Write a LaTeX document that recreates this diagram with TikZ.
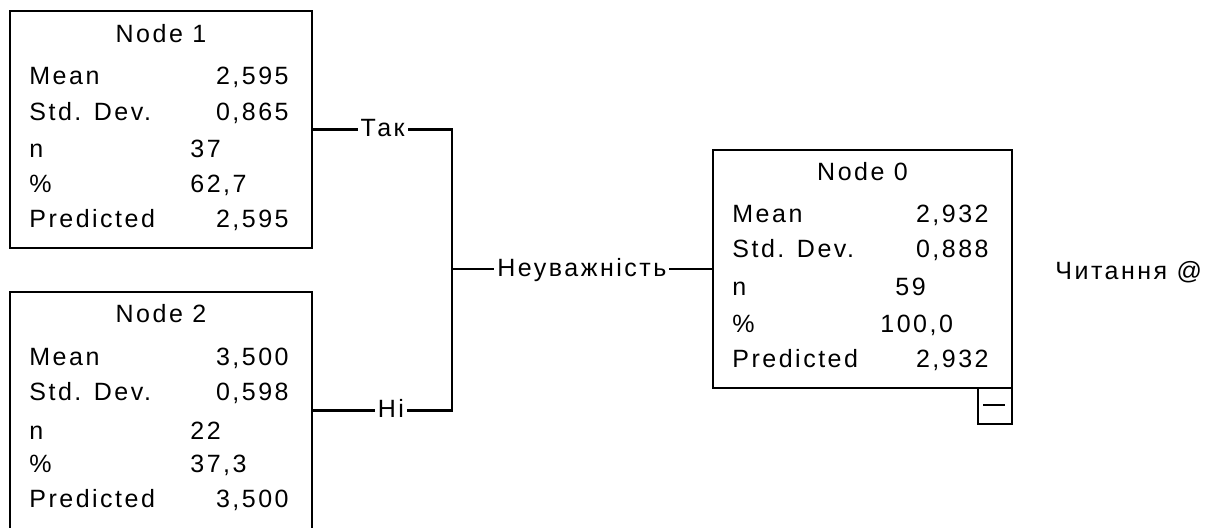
\documentclass[tikz,border=0pt]{standalone}
\usepackage{fontspec}
\setmainfont{Liberation Sans}[LetterSpace=10]

\tikzstyle{box} = [draw, line width = 1.3pt, inner sep = 0pt]
\tikzstyle{txt} = [inner sep = 0pt, text height = 0.72em, text depth = 0pt, font = \fontsize{12.5}{14}\selectfont]
\tikzstyle{lab} = [txt, fill = white, inner xsep = 1.5pt]
\tikzstyle{conn} = [line width = 1.3pt]

\begin{document}
\begin{tikzpicture}[x = 0.5pt, y = -0.5pt]
		\useasboundingbox (0, 0) rectangle (1227, 528);

		% tree nodes
		\node [box, minimum width = 151pt, minimum height = 118.5pt] at (161, 129.5) (n1) {};
		\node [box, minimum width = 151pt, minimum height = 118.5pt] at (161, 410.5) (n2) {};
		\node [box, minimum width = 149.5pt, minimum height = 119pt] at (862.5, 269) (n0) {};
		\node [box, minimum width = 17pt, minimum height = 18pt] at (995, 406) (n0tog) {};
		\draw [conn] (983, 405) -- (1005, 405);

		% Node 1
		\node [txt] at (161, 35) (n1title) {Node 1};
		\node [txt, anchor = west] at (29, 77) (n1mean) {Mean};
		\node [txt, anchor = west] at (29, 113) (n1sd) {Std. Dev.};
		\node [txt, anchor = west] at (29, 150) (n1n) {n};
		\node [txt, anchor = west] at (29, 185) (n1pct) {\%};
		\node [txt, anchor = west] at (29, 220) (n1pred) {Predicted};
		\node [txt, anchor = east] at (289, 77) (n1meanv) {2,595};
		\node [txt, anchor = east] at (289, 113) (n1sdv) {0,865};
		\node [txt, anchor = west] at (190, 150) (n1nv) {37};
		\node [txt, anchor = west] at (190, 185) (n1pctv) {62,7};
		\node [txt, anchor = east] at (289, 220) (n1predv) {2,595};

		% Node 2
		\node [txt] at (161, 315) (n2title) {Node 2};
		\node [txt, anchor = west] at (29, 358) (n2mean) {Mean};
		\node [txt, anchor = west] at (29, 393) (n2sd) {Std. Dev.};
		\node [txt, anchor = west] at (29, 432) (n2n) {n};
		\node [txt, anchor = west] at (29, 465) (n2pct) {\%};
		\node [txt, anchor = west] at (29, 500) (n2pred) {Predicted};
		\node [txt, anchor = east] at (289, 358) (n2meanv) {3,500};
		\node [txt, anchor = east] at (289, 393) (n2sdv) {0,598};
		\node [txt, anchor = west] at (190, 432) (n2nv) {22};
		\node [txt, anchor = west] at (190, 465) (n2pctv) {37,3};
		\node [txt, anchor = east] at (289, 500) (n2predv) {3,500};

		% Node 0
		\node [txt] at (862.5, 173) (n0title) {Node 0};
		\node [txt, anchor = west] at (732, 215) (n0mean) {Mean};
		\node [txt, anchor = west] at (732, 250) (n0sd) {Std. Dev.};
		\node [txt, anchor = west] at (732, 288) (n0n) {n};
		\node [txt, anchor = west] at (732, 325) (n0pct) {\%};
		\node [txt, anchor = west] at (732, 360) (n0pred) {Predicted};
		\node [txt, anchor = east] at (989, 215) (n0meanv) {2,932};
		\node [txt, anchor = east] at (989, 250) (n0sdv) {0,888};
		\node [txt, anchor = west] at (895, 288) (n0nv) {59};
		\node [txt, anchor = west] at (880, 325) (n0pctv) {100,0};
		\node [txt, anchor = east] at (989, 360) (n0predv) {2,932};

		\node [txt, anchor = west] at (1055, 272) (target) {Читання @};

		% splits
		\coordinate (split) at (452, 269);
		\draw [conn] (n1.east) -- node [lab] {Так} (n1.east -| split) -- (split);
		\draw [conn] (n2.east) -- node [lab, pos = 0.56] {Ні} (n2.east -| split) -- (split);
		\draw [conn] (split) -- node [lab] {Неуважність} (n0.west);
	\end{tikzpicture}
\end{document}
